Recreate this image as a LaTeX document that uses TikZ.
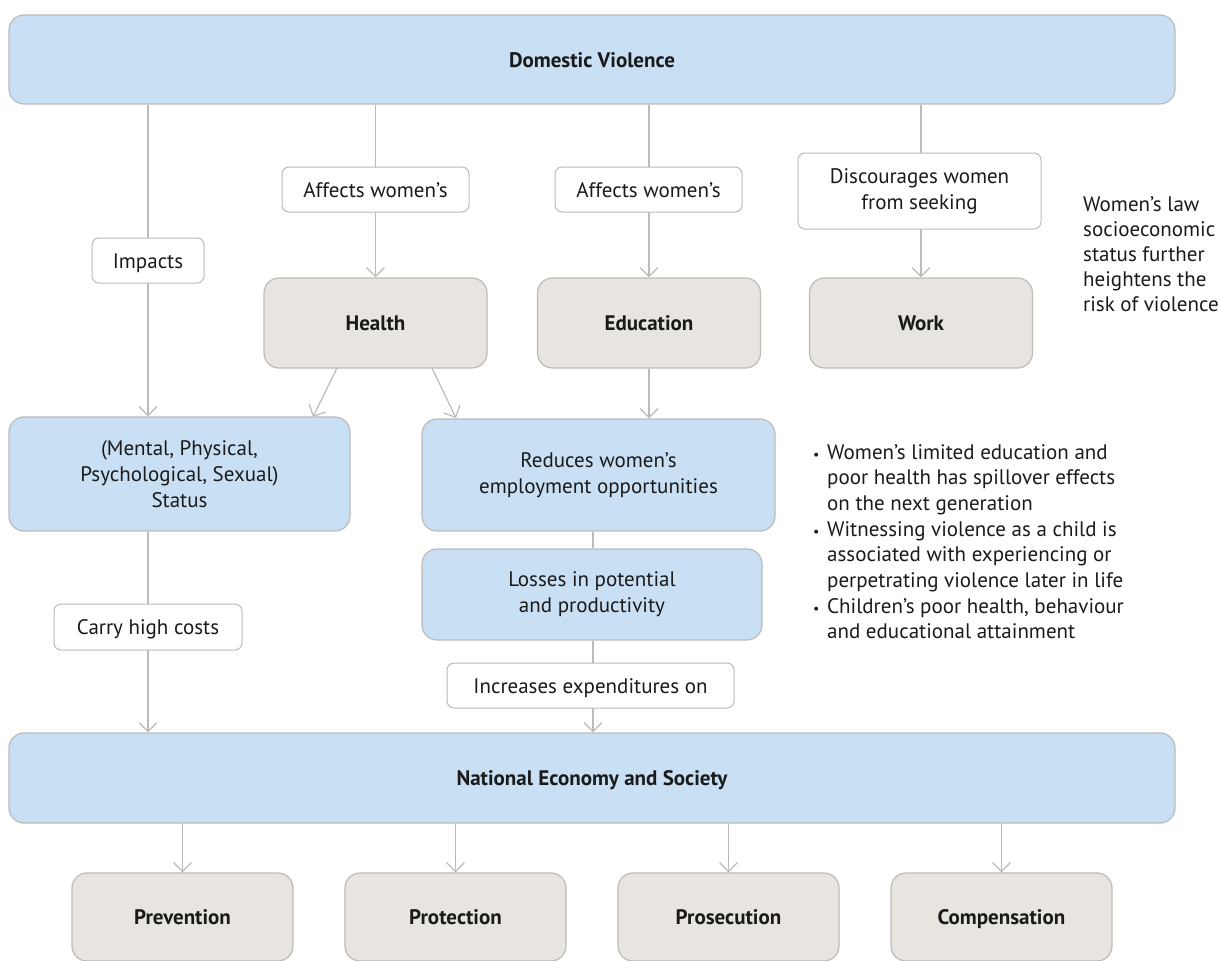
\documentclass[tikz,border=0pt]{standalone}
\usepackage{fontspec}
\setmainfont{PT Sans}
\usetikzlibrary{arrows.meta,backgrounds}
\definecolor{bluefill}{HTML}{C9DFF4}
\definecolor{beigefill}{HTML}{E8E4DF}
\definecolor{edge}{HTML}{BBBBBB}
\definecolor{ink}{HTML}{1A1A1A}
\newcommand{\smallbul}{\makebox[14pt][l]{\fontsize{14}{14}\selectfont\textbullet}}
\begin{document}
\begin{tikzpicture}[x=1pt,y=-1pt,
  every node/.style={text=ink,font=\fontsize{21}{26}\selectfont},
  bluebox/.style={draw=edge,line width=1.2pt,fill=bluefill,rounded corners=15pt,inner sep=0pt,align=center},
  oneline/.style={text height=17pt,text depth=2pt},
  beigebox/.style={draw=edge,line width=1.2pt,fill=beigefill,rounded corners=15pt,inner sep=0pt,align=center,oneline,font=\fontsize{21}{26}\selectfont\bfseries},
  lbl/.style={draw=edge,line width=1pt,fill=white,rounded corners=7pt,inner sep=0pt,align=center},
  conn/.style={draw=edge,line width=1.2pt},
  arr/.style={conn,-{Straight Barb[length=9pt,width=18pt,line width=1.2pt]}},
  note/.style={align=left,anchor=north west,inner sep=0pt,font=\fontsize{21}{25.7}\selectfont}]
\useasboundingbox (0,0) rectangle (1219,961);
% main boxes
\node[bluebox,oneline,minimum width=1166pt,minimum height=89pt,font=\fontsize{21}{26}\selectfont\bfseries] (dv) at (592,59.5) {Domestic Violence};
\node[beigebox,minimum width=223pt,minimum height=90pt] (health) at (375.5,323) {Health};
\node[beigebox,minimum width=223pt,minimum height=90pt] (edu) at (649,323) {Education};
\node[beigebox,minimum width=223pt,minimum height=90pt] (work) at (921,323) {Work};
\node[bluebox,minimum width=341pt,minimum height=114pt] (ms) at (179.5,474) {(Mental, Physical,\\Psychological, Sexual)\\Status};
\node[bluebox,minimum width=353pt,minimum height=112pt] (red) at (598.5,475) {Reduces women’s\\employment opportunities};
\node[bluebox,minimum width=340pt,minimum height=91pt] (loss) at (592,594.5) {Losses in potential\\and productivity};
\node[bluebox,oneline,minimum width=1166pt,minimum height=90pt,font=\fontsize{21}{26}\selectfont\bfseries] (nat) at (592,778) {National Economy and Society};
\node[beigebox,minimum width=221pt,minimum height=88pt] (prev) at (182.5,917) {Prevention};
\node[beigebox,minimum width=221pt,minimum height=88pt] (prot) at (455.5,917) {Protection};
\node[beigebox,minimum width=221pt,minimum height=88pt] (pros) at (728.5,917) {Prosecution};
\node[beigebox,minimum width=221pt,minimum height=88pt] (comp) at (1001.5,917) {Compensation};
% labels
\node[lbl,oneline,minimum width=112pt,minimum height=45pt] (imp) at (148,260.5) {Impacts};
\node[lbl,oneline,minimum width=187pt,minimum height=45pt] (aff1) at (375.5,189.5) {Affects women’s};
\node[lbl,oneline,minimum width=187pt,minimum height=45pt] (aff2) at (648.5,189.5) {Affects women’s};
\node[lbl,minimum width=243pt,minimum height=76pt] (disc) at (919.5,191) {Discourages women\\from seeking};
\node[lbl,oneline,minimum width=188pt,minimum height=46pt] (carry) at (148,627) {Carry high costs};
\node[lbl,oneline,minimum width=287pt,minimum height=45pt] (incr) at (590.5,685.5) {Increases expenditures on};
% side notes
\node[note,font=\fontsize{21}{25}\selectfont] (risk) at (1083,196) {Women’s law\\socioeconomic\\status further\\heightens the\\risk of violence};
\node[note] (gen) at (813,444) {%
\smallbul Women’s limited education and\\
\hspace*{14pt}poor health has spillover effects\\
\hspace*{14pt}on the next generation\\
\smallbul Witnessing violence as a child is\\
\hspace*{14pt}associated with experiencing or\\
\hspace*{14pt}perpetrating violence later in life\\
\smallbul Children's poor health, behaviour\\
\hspace*{14pt}and educational attainment};
% connectors
\coordinate (xl) at (148,0);
\coordinate (xm) at (593,0);
\coordinate (hl) at (337,368);
\coordinate (hr) at (432,368);
\coordinate (hlt) at (313,417);
\coordinate (hrt) at (456,418);
\begin{pgfonlayer}{background}
\draw[arr] (dv.south -| xl) -- (ms.north -| xl);
\draw[arr] (dv.south -| health.north) -- (health.north);
\draw[arr] (dv.south -| edu.north) -- (edu.north);
\draw[arr] (dv.south -| work.north) -- (work.north);
\draw[arr] (hl) -- (hlt);
\draw[arr] (hr) -- (hrt);
\draw[arr] (edu.south) -- (red.north -| edu.south);
\draw[arr] (ms.south -| xl) -- (nat.north -| xl);
\draw[conn] (red.south -| xm) -- (loss.north -| xm);
\draw[arr] (loss.south -| xm) -- (nat.north -| xm);
\draw[arr] (nat.south -| prev.north) -- (prev.north);
\draw[arr] (nat.south -| prot.north) -- (prot.north);
\draw[arr] (nat.south -| pros.north) -- (pros.north);
\draw[arr] (nat.south -| comp.north) -- (comp.north);
\end{pgfonlayer}
\end{tikzpicture}
\end{document}
